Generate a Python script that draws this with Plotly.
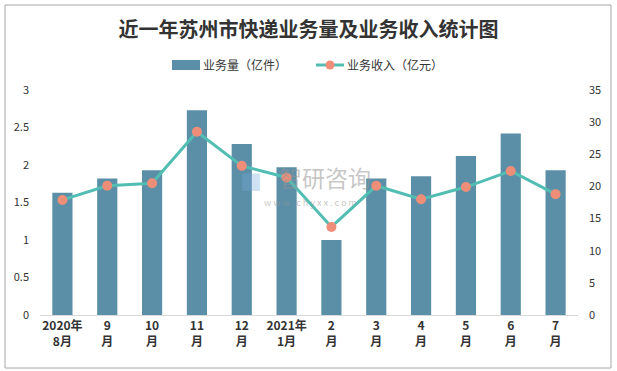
import plotly.graph_objects as go

categories = ["2020年<br>8月", "9<br>月", "10<br>月", "11<br>月", "12<br>月", "2021年<br>1月",
              "2<br>月", "3<br>月", "4<br>月", "5<br>月", "6<br>月", "7<br>月"]
volume = [1.63, 1.82, 1.93, 2.73, 2.28, 1.97, 1.00, 1.82, 1.85, 2.12, 2.42, 1.93]
revenue = [17.9, 20.1, 20.5, 28.5, 23.2, 21.4, 13.7, 20.1, 18.0, 19.9, 22.4, 18.8]
left_ticks = [0, 0.5, 1, 1.5, 2, 2.5, 3]
right_ticks = [0, 5, 10, 15, 20, 25, 30, 35]
series_names = ["业务量（亿件）", "业务收入（亿元）"]

FONT = "Noto Sans CJK SC"
BAR_C = "#5B8FA7"
LINE_C = "#52BDB3"
MARK_C = "#EE8E78"
xs = list(range(len(categories)))

fig = go.Figure()
fig.add_trace(go.Bar(x=xs, y=volume, name=series_names[0], marker_color=BAR_C,
                     marker_line_width=0, width=0.45, yaxis="y", showlegend=False))
fig.add_trace(go.Scatter(x=xs, y=revenue, name=series_names[1], mode="lines+markers",
                         line=dict(color=LINE_C, width=3),
                         marker=dict(color=MARK_C, size=10), yaxis="y2", showlegend=False))

# plot area: x 40..578 px, y 90..315 px
def px(x):
    return (x - 40) / 538

def py(y):
    return (315 - y) / 225

fig.update_layout(
    width=617, height=371,
    margin=dict(l=40, r=39, t=90, b=56),
    paper_bgcolor="white", plot_bgcolor="white",
    font=dict(family=FONT, color="#333333", size=11),
    title=dict(text="<b>近一年苏州市快递业务量及业务收入统计图</b>", x=0.5, xanchor="center",
               y=1 - 30 / 371, yanchor="middle",
               font=dict(size=20, color="#333333", family=FONT)),
    xaxis=dict(tickmode="array", tickvals=xs, ticktext=["<b>" + c + "</b>" for c in categories],
               range=[-0.5, len(categories) - 0.5],
               showline=True, linecolor="#D9D9D9", linewidth=1, ticks="",
               showgrid=False, zeroline=False, tickfont=dict(size=12, color="#333333")),
    yaxis=dict(range=[0, 3], tickvals=left_ticks, ticktext=[str(t) for t in left_ticks],
               showgrid=False, zeroline=False, showline=False, ticks="", ticklabelstandoff=10,
               tickfont=dict(size=11, color="#333333")),
    yaxis2=dict(range=[0, 35], tickvals=right_ticks, overlaying="y", side="right",
                showgrid=False, zeroline=False, showline=False, ticks="", ticklabelstandoff=10,
                tickfont=dict(size=11, color="#333333")),
    showlegend=False,
)

# outer border
fig.add_shape(type="rect", xref="paper", yref="paper",
              x0=px(5), x1=px(611), y0=py(368), y1=py(5),
              line=dict(color="#A6A6A6", width=1), fillcolor="rgba(0,0,0,0)", layer="below")

# custom legend
fig.add_shape(type="rect", xref="paper", yref="paper",
              x0=px(172), x1=px(200), y0=py(70), y1=py(60),
              line=dict(width=0), fillcolor=BAR_C)
fig.add_annotation(text=series_names[0], xref="paper", yref="paper", x=px(201), y=py(65),
                   xanchor="left", yanchor="middle", showarrow=False,
                   font=dict(size=12, color="#333333", family=FONT))
fig.add_shape(type="line", xref="paper", yref="paper",
              x0=px(316), x1=px(344), y0=py(65), y1=py(65),
              line=dict(color=LINE_C, width=3))
fig.add_shape(type="circle", xref="paper", yref="paper",
              x0=px(325.5), x1=px(334.5), y0=py(69.5), y1=py(60.5),
              line=dict(width=0), fillcolor=MARK_C)
fig.add_annotation(text=series_names[1], xref="paper", yref="paper", x=px(345), y=py(65),
                   xanchor="left", yanchor="middle", showarrow=False,
                   font=dict(size=12, color="#333333", family=FONT))

# watermark
fig.add_annotation(text="智研咨询", xref="paper", yref="paper",
                   x=px(325), y=py(177), showarrow=False,
                   font=dict(size=23, color="rgba(150,150,150,0.55)", family=FONT))
fig.add_annotation(text="w w w . c h y x x . c o m", xref="paper", yref="paper",
                   x=px(310), y=py(202), showarrow=False,
                   font=dict(size=9, color="rgba(150,150,150,0.55)", family=FONT))
fig.add_annotation(text="■", xref="paper", yref="paper",
                   x=px(251), y=py(180), showarrow=False,
                   font=dict(size=22, color="rgba(120,170,220,0.35)", family=FONT))

fig.write_html("out.html", config={"displayModeBar": False},
               post_script="document.body.style.margin='0';")
